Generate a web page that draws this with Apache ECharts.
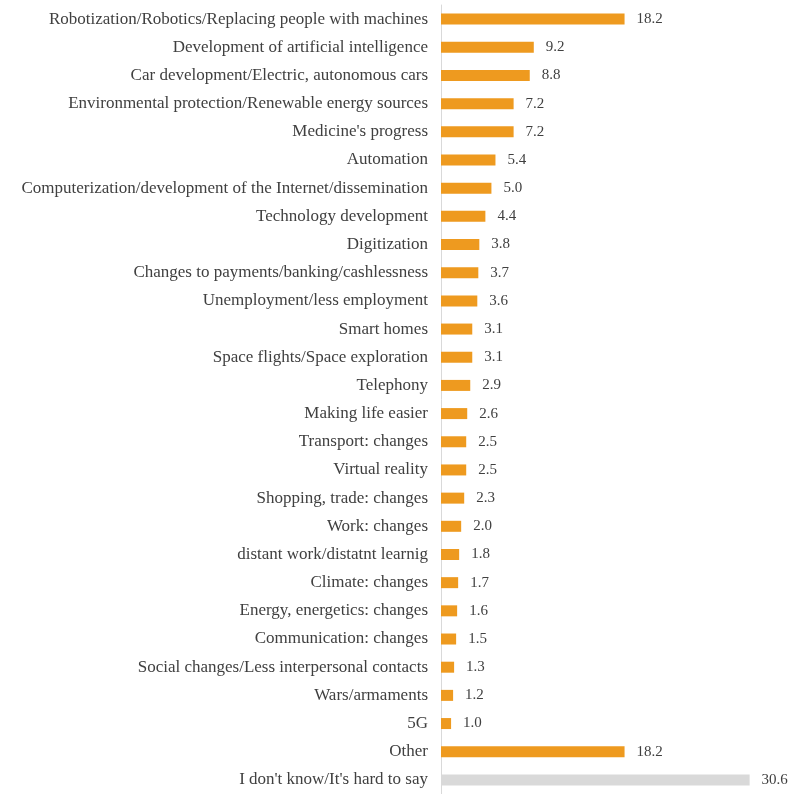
<!DOCTYPE html>
<html><head><meta charset="utf-8">
<script src="https://cdn.jsdelivr.net/npm/echarts@6/dist/echarts.min.js"></script>
<style>html,body{margin:0;padding:0;background:#fff}#c{width:794px;height:794px}</style>
</head><body><div id="c"></div>
<script>
const categories = [
"Robotization/Robotics/Replacing people with machines",
"Development of artificial intelligence",
"Car development/Electric, autonomous cars",
"Environmental protection/Renewable energy sources",
"Medicine's progress",
"Automation",
"Computerization/development of the Internet/dissemination",
"Technology development",
"Digitization",
"Changes to payments/banking/cashlessness",
"Unemployment/less employment",
"Smart homes",
"Space flights/Space exploration",
"Telephony",
"Making life easier",
"Transport: changes",
"Virtual reality",
"Shopping, trade: changes",
"Work: changes",
"distant work/distatnt learnig",
"Climate: changes",
"Energy, energetics: changes",
"Communication: changes",
"Social changes/Less interpersonal contacts",
"Wars/armaments",
"5G",
"Other",
"I don't know/It's hard to say"
];
const values = [18.2,9.2,8.8,7.2,7.2,5.4,5.0,4.4,3.8,3.7,3.6,3.1,3.1,2.9,2.6,2.5,2.5,2.3,2.0,1.8,1.7,1.6,1.5,1.3,1.2,1.0,18.2,30.6];
const orange = '#EE9A1F', grey = '#D9D9D9';
const chart = echarts.init(document.getElementById('c'));
chart.setOption({
  animation:false,
  grid:{left:441, top:5, width:354, height:790, containLabel:false},
  xAxis:{type:'value', min:0, max:35, show:false},
  yAxis:{type:'category', inverse:true, data:categories,
    axisLine:{show:true, lineStyle:{color:'#D9D9D9', width:1}},
    axisTick:{show:false},
    axisLabel:{fontFamily:'Liberation Serif', fontSize:17, color:'#404040', margin:13}},
  series:[{type:'bar', data:values.map((v,i)=>({value:v, itemStyle:{color: i===values.length-1?grey:orange}})),
    barWidth:11,
    label:{show:true, position:'right', distance:12, fontFamily:'Liberation Serif', fontSize:15, color:'#404040',
      formatter:p=>p.value.toFixed(1)}}]
});
</script></body></html>
